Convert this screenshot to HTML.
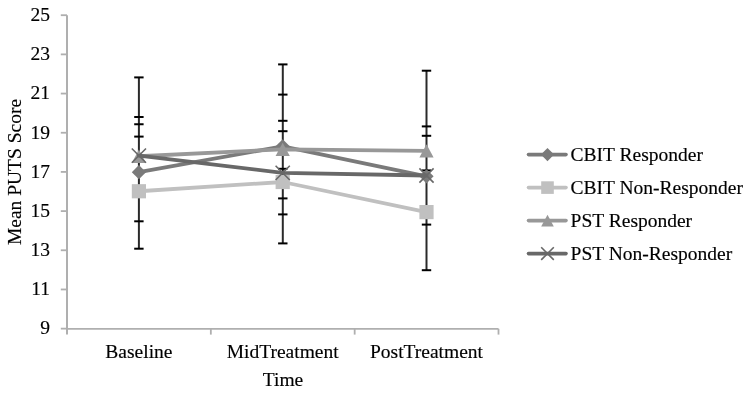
<!DOCTYPE html>
<html><head><meta charset="utf-8"><style>
html,body{margin:0;padding:0;background:#fff;}
svg{display:block;will-change:transform;}
text{font-family:"Liberation Serif",serif;font-size:19.5px;fill:#000;stroke:#000;stroke-width:0.15px;}
</style></head><body>
<svg width="751" height="395" viewBox="0 0 751 395">
<rect width="751" height="395" fill="#fff"/>
<path d="M67 15.2V334.6" stroke="#afafaf" stroke-width="2" fill="none"/>
<path d="M66 328.8H498.5" stroke="#afafaf" stroke-width="1.8" fill="none"/>
<path d="M60.8 328.64H67" stroke="#afafaf" stroke-width="1.8" fill="none"/>
<path d="M60.8 289.46H67" stroke="#afafaf" stroke-width="1.8" fill="none"/>
<path d="M60.8 250.28H67" stroke="#afafaf" stroke-width="1.8" fill="none"/>
<path d="M60.8 211.10H67" stroke="#afafaf" stroke-width="1.8" fill="none"/>
<path d="M60.8 171.92H67" stroke="#afafaf" stroke-width="1.8" fill="none"/>
<path d="M60.8 132.74H67" stroke="#afafaf" stroke-width="1.8" fill="none"/>
<path d="M60.8 93.56H67" stroke="#afafaf" stroke-width="1.8" fill="none"/>
<path d="M60.8 54.38H67" stroke="#afafaf" stroke-width="1.8" fill="none"/>
<path d="M60.8 15.20H67" stroke="#afafaf" stroke-width="1.8" fill="none"/>
<path d="M210.83 328.8V334.6" stroke="#afafaf" stroke-width="1.8" fill="none"/>
<path d="M354.67 328.8V334.6" stroke="#afafaf" stroke-width="1.8" fill="none"/>
<path d="M498.50 328.8V334.6" stroke="#afafaf" stroke-width="1.8" fill="none"/>
<text x="50" y="334.44" text-anchor="end">9</text>
<text x="50" y="295.26" text-anchor="end">11</text>
<text x="50" y="256.08" text-anchor="end">13</text>
<text x="50" y="216.90" text-anchor="end">15</text>
<text x="50" y="177.72" text-anchor="end">17</text>
<text x="50" y="138.54" text-anchor="end">19</text>
<text x="50" y="99.36" text-anchor="end">21</text>
<text x="50" y="60.18" text-anchor="end">23</text>
<text x="50" y="21.00" text-anchor="end">25</text>
<path d="M138.9 77.4V248.7" stroke="#2a2a2a" stroke-width="2" fill="none"/>
<path d="M134.20000000000002 77.4H143.6" stroke="#000" stroke-width="2" fill="none"/>
<path d="M134.20000000000002 117.0H143.6" stroke="#000" stroke-width="2" fill="none"/>
<path d="M134.20000000000002 124.25H143.6" stroke="#000" stroke-width="2" fill="none"/>
<path d="M134.20000000000002 136.6H143.6" stroke="#000" stroke-width="2" fill="none"/>
<path d="M134.20000000000002 221.3H143.6" stroke="#000" stroke-width="2" fill="none"/>
<path d="M134.20000000000002 248.7H143.6" stroke="#000" stroke-width="2" fill="none"/>
<path d="M282.8 64.4V243.4" stroke="#2a2a2a" stroke-width="2" fill="none"/>
<path d="M278.1 64.4H287.5" stroke="#000" stroke-width="2" fill="none"/>
<path d="M278.1 94.6H287.5" stroke="#000" stroke-width="2" fill="none"/>
<path d="M278.1 120.8H287.5" stroke="#000" stroke-width="2" fill="none"/>
<path d="M278.1 131.2H287.5" stroke="#000" stroke-width="2" fill="none"/>
<path d="M278.1 168.8H287.5" stroke="#000" stroke-width="2" fill="none"/>
<path d="M278.1 198.4H287.5" stroke="#000" stroke-width="2" fill="none"/>
<path d="M278.1 214.4H287.5" stroke="#000" stroke-width="2" fill="none"/>
<path d="M278.1 243.4H287.5" stroke="#000" stroke-width="2" fill="none"/>
<path d="M426.5 70.7V270.2" stroke="#2a2a2a" stroke-width="2" fill="none"/>
<path d="M421.8 70.7H431.2" stroke="#000" stroke-width="2" fill="none"/>
<path d="M421.8 126.4H431.2" stroke="#000" stroke-width="2" fill="none"/>
<path d="M421.8 135.8H431.2" stroke="#000" stroke-width="2" fill="none"/>
<path d="M421.8 170.4H431.2" stroke="#000" stroke-width="2" fill="none"/>
<path d="M421.8 224.6H431.2" stroke="#000" stroke-width="2" fill="none"/>
<path d="M421.8 270.2H431.2" stroke="#000" stroke-width="2" fill="none"/>
<polyline points="138.9,172.2 282.7,146.3 426.5,176.3" stroke="#7a7a7a" stroke-width="3.8" fill="none" stroke-linejoin="round" stroke-linecap="round"/>
<path d="M138.9 165.1L146.0 172.2L138.9 179.29999999999998L131.8 172.2Z" fill="#7a7a7a"/>
<path d="M282.7 139.20000000000002L289.8 146.3L282.7 153.4L275.59999999999997 146.3Z" fill="#7a7a7a"/>
<path d="M426.5 169.20000000000002L433.6 176.3L426.5 183.4L419.4 176.3Z" fill="#7a7a7a"/>
<polyline points="138.9,191.25 282.7,182.0 426.5,212.1" stroke="#c0c0c0" stroke-width="3.8" fill="none" stroke-linejoin="round" stroke-linecap="round"/>
<rect x="131.8" y="184.15" width="14.2" height="14.2" fill="#c0c0c0"/>
<rect x="275.59999999999997" y="174.9" width="14.2" height="14.2" fill="#c0c0c0"/>
<rect x="419.4" y="205.0" width="14.2" height="14.2" fill="#c0c0c0"/>
<polyline points="138.9,156.25 282.7,149.3 426.5,150.85" stroke="#989898" stroke-width="3.8" fill="none" stroke-linejoin="round" stroke-linecap="round"/>
<path d="M138.9 149.576L146.0 162.924L131.8 162.924Z" fill="#989898"/>
<path d="M282.7 142.626L289.8 155.97400000000002L275.59999999999997 155.97400000000002Z" fill="#989898"/>
<path d="M426.5 144.176L433.6 157.524L419.4 157.524Z" fill="#989898"/>
<polyline points="138.9,155.6 282.7,172.9 426.5,175.5" stroke="#686868" stroke-width="3.8" fill="none" stroke-linejoin="round" stroke-linecap="round"/>
<path d="M131.8 148.5L146.0 162.7M146.0 148.5L131.8 162.7" stroke="#686868" stroke-width="1.6" fill="none"/>
<path d="M275.59999999999997 165.8L289.8 180.0M289.8 165.8L275.59999999999997 180.0" stroke="#686868" stroke-width="1.6" fill="none"/>
<path d="M419.4 168.4L433.6 182.6M433.6 168.4L419.4 182.6" stroke="#686868" stroke-width="1.6" fill="none"/>
<text x="138.9" y="357.8" text-anchor="middle">Baseline</text>
<text x="282.7" y="357.8" text-anchor="middle">MidTreatment</text>
<text x="426.5" y="357.8" text-anchor="middle">PostTreatment</text>
<text x="283" y="386" text-anchor="middle">Time</text>
<text transform="translate(20.8 172) rotate(-90)" text-anchor="middle">Mean PUTS Score</text>
<path d="M528.5 154.6H566" stroke="#7a7a7a" stroke-width="3.6" stroke-linecap="round" fill="none"/>
<path d="M547.5 148.0L554.1 154.6L547.5 161.2L540.9 154.6Z" fill="#7a7a7a"/>
<text x="570.6" y="160.6">CBIT Responder</text>
<path d="M528.5 187.6H566" stroke="#c0c0c0" stroke-width="3.6" stroke-linecap="round" fill="none"/>
<rect x="541.2" y="181.29999999999998" width="12.6" height="12.6" fill="#c0c0c0"/>
<text x="570.6" y="193.6">CBIT Non-Responder</text>
<path d="M528.5 220.6H566" stroke="#989898" stroke-width="3.6" stroke-linecap="round" fill="none"/>
<path d="M547.5 214.678L553.8 226.522L541.2 226.522Z" fill="#989898"/>
<text x="570.6" y="226.6">PST Responder</text>
<path d="M528.5 253.6H566" stroke="#686868" stroke-width="3.6" stroke-linecap="round" fill="none"/>
<path d="M541.2 247.29999999999998L553.8 259.9M553.8 247.29999999999998L541.2 259.9" stroke="#686868" stroke-width="1.6" fill="none"/>
<text x="570.6" y="259.6">PST Non-Responder</text>
</svg>
</body></html>
